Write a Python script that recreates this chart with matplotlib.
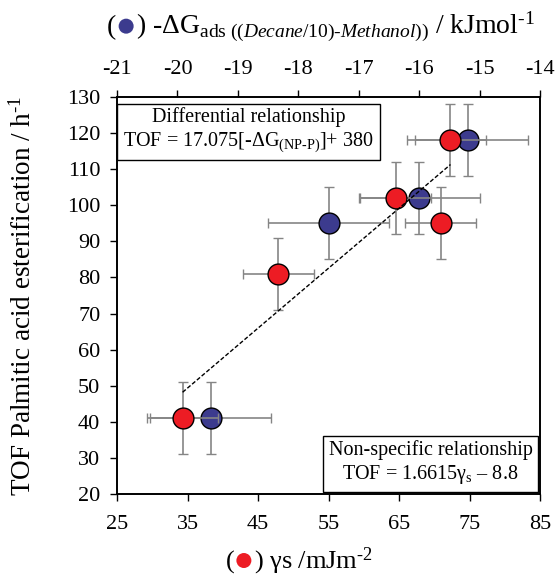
import matplotlib
matplotlib.use('Agg')
import matplotlib.pyplot as plt
from matplotlib.offsetbox import TextArea, HPacker, AnchoredOffsetbox, DrawingArea
from matplotlib.patches import Circle

plt.rcParams['font.family'] = 'Liberation Serif'
plt.rcParams['mathtext.fontset'] = 'custom'
plt.rcParams['mathtext.rm'] = 'Liberation Serif'
plt.rcParams['mathtext.it'] = 'Liberation Serif:italic'
plt.rcParams['mathtext.bf'] = 'Liberation Serif:bold'

# red points, bottom axis (surface energy)
gamma_s = [34.3, 47.9, 64.5, 70.9, 72.3]
tof_red = [41, 81, 102, 95, 118]
gamma_err = [5, 5, 5, 5, 5]
tof_err_red = [10, 10, 10, 10, 10]

# blue points, top axis (adsorption free energy)
dg_ads = [-19.45, -17.5, -16.0, -15.2]
tof_blue = [41, 95, 102, 118]
dg_err = [1.0, 1.0, 1.0, 1.0]
tof_err_blue = [10, 10, 10, 10]

# dashed fit line (non-specific relationship)
fit_gamma = [34.3, 72.3]
fit_tof = [48.2, 111.3]

red = '#ED1C24'
blue = '#3C3B8E'
err_color = '#858585'
HY = '\u2010'  # plain hyphen, mathtext would turn '-' into a minus

fig = plt.figure(figsize=(5.58, 5.77), dpi=100)
ax = fig.add_axes([0.2097, 0.1438, 0.7581, 0.6880])
ax2 = ax.twiny()
ax.set_zorder(ax2.get_zorder() + 1)
ax.patch.set_visible(False)

ax2.errorbar(dg_ads, tof_blue, xerr=dg_err, yerr=tof_err_blue, fmt='o', ms=15,
             mfc=blue, mec='black', mew=1, ecolor=err_color, elinewidth=1.2,
             capsize=3.6, capthick=1.2)
ax.errorbar(gamma_s, tof_red, xerr=gamma_err, yerr=tof_err_red, fmt='o', ms=15,
            mfc=red, mec='black', mew=1, ecolor=err_color, elinewidth=1.2,
            capsize=3.6, capthick=1.2, zorder=3)
ax.plot(fit_gamma, fit_tof, color='black', linestyle='--', dashes=(3, 1.5), lw=1, zorder=5)

ax.set_xlim(25, 85)
ax.set_ylim(20, 130)
ax.set_xticks(range(25, 86, 10))
ax.set_yticks(range(20, 131, 10))
ax2.set_xlim(-21, -14)
ax2.set_xticks(range(-21, -13))
ax2.set_xticklabels([str(v) for v in range(-21, -13)])

ax.tick_params(axis='x', direction='out', length=5, width=1, labelsize=16, pad=10)
ax.tick_params(axis='y', direction='out', length=5, width=1, labelsize=16, pad=7)
ax2.tick_params(axis='x', direction='out', length=5, width=1, labelsize=16, pad=8)
for a in (ax, ax2):
    for s in a.spines.values():
        s.set_linewidth(1.2)

ax.set_ylabel('TOF Palmitic acid esterification / h$^{\\mathrm{' + HY + '1}}$', fontsize=19.5)
ax.yaxis.set_label_coords(-0.19, 0.5)

ax.text(0.015, 0.975,
        'Differential relationship\nTOF = 17.075[-ΔG$_{\\mathrm{(NP' + HY + 'P)}}$]+ 380',
        transform=ax.transAxes, ha='left', va='top', fontsize=14.5, multialignment='center',
        bbox=dict(boxstyle='square,pad=0.3', fc='white', ec='black', lw=1))
ax.text(0.982, 0.02, 'Non-specific relationship\nTOF = 1.6615γ$_{\\mathrm{s}}$ – 8.8',
        transform=ax.transAxes, ha='right', va='bottom', fontsize=14.5, multialignment='center',
        bbox=dict(boxstyle='square,pad=0.3', fc='white', ec='black', lw=1))


def dot(color):
    da = DrawingArea(12, 12, 0, 0.5)
    da.add_artist(Circle((6, 5.5), 5.4, fc=color, ec='none'))
    return da


def label_box(parts, x, y):
    areas = []
    for item in parts:
        if isinstance(item, tuple):
            areas.append(TextArea(item[0], textprops=item[1]))
        else:
            areas.append(item)
    pack = HPacker(children=areas, align='baseline', pad=0, sep=1)
    box = AnchoredOffsetbox(loc='center', child=pack, pad=0, borderpad=0, frameon=False,
                            bbox_to_anchor=(x, y), bbox_transform=fig.transFigure)
    fig.add_artist(box)


lab = dict(fontsize=19, color='black')
lab_top = dict(fontsize=20, color='black')

label_box([('(', lab), dot(red), (') γs /mJm$^{\\mathrm{' + HY + '2}}$', lab)],
          299 / 558, 1 - 561 / 577)
label_box([('(', lab_top), dot(blue),
           (') -ΔG$_{\\mathrm{ads}\\ \\mathit{((Decane/10)' + HY + 'Methanol))}}$ / kJmol$^{\\mathrm{'
            + HY + '1}}$', lab_top)],
          321 / 558, 1 - 27 / 577)

fig.savefig('out.png', dpi=100)
